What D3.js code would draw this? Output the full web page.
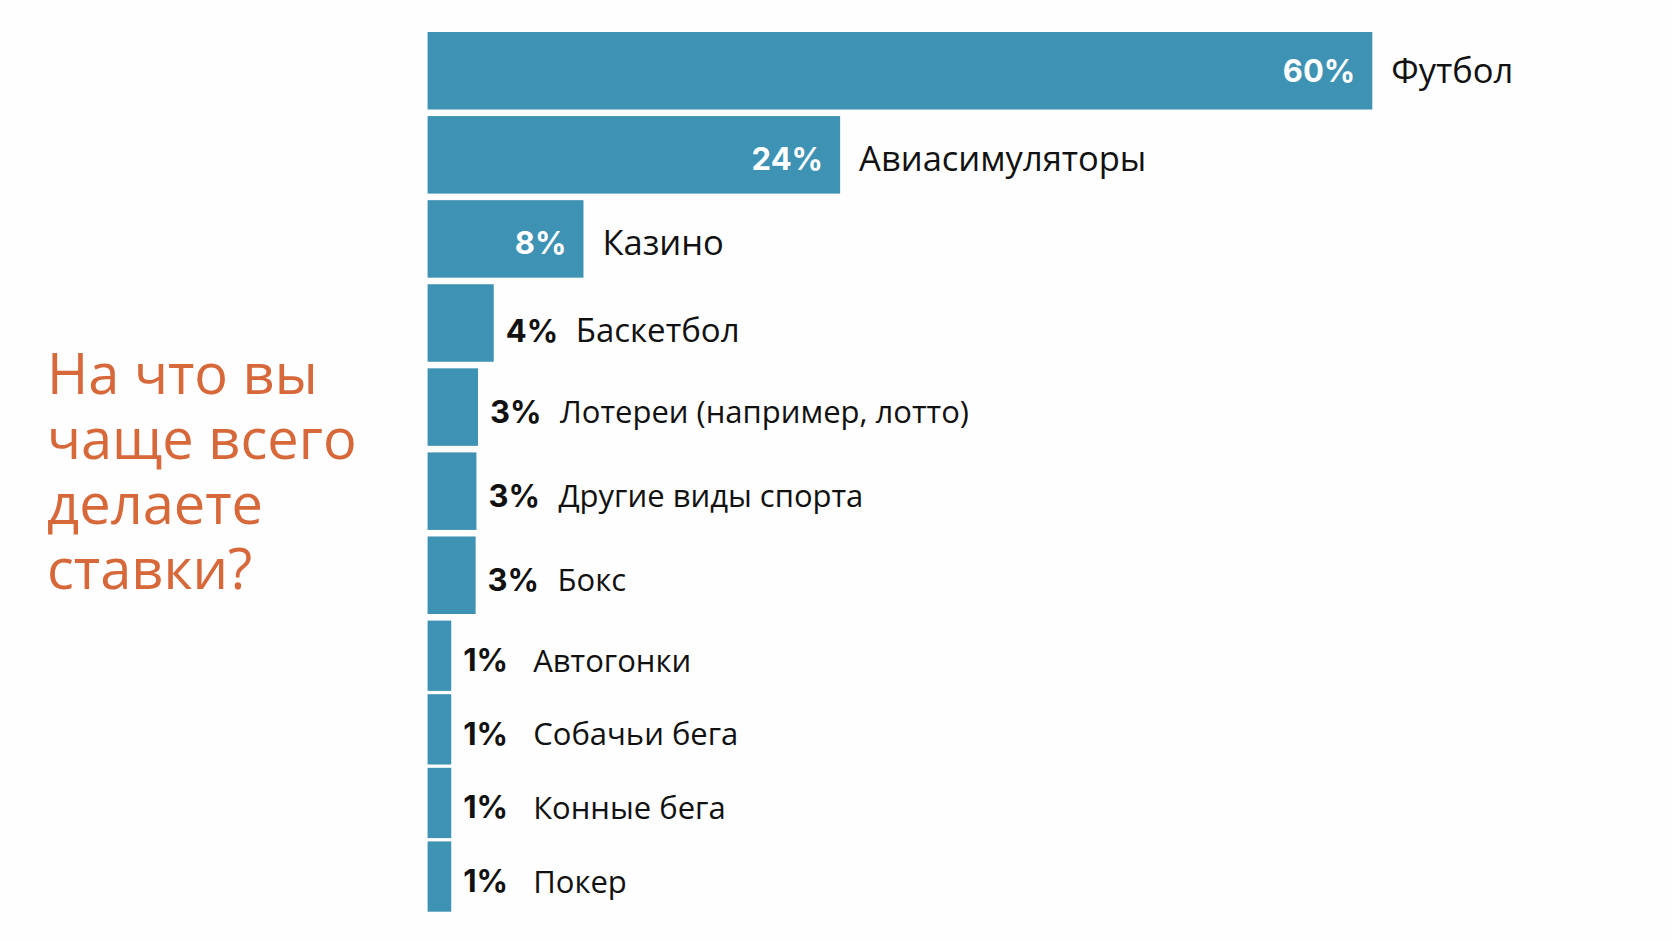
<!DOCTYPE html>
<html>
<head>
<meta charset="utf-8">
<script src="https://cdn.jsdelivr.net/npm/d3@7"></script>
<style>
  html, body { margin: 0; padding: 0; background: #fefefe; }
  svg { display: block; }
</style>
</head>
<body>
<div id="js_chart"></div>
<script>
const categories = [
  "Футбол", "Авиасимуляторы", "Казино", "Баскетбол",
  "Лотереи (например, лотто)", "Другие виды спорта", "Бокс",
  "Автогонки", "Собачьи бега", "Конные бега", "Покер"
];
// percentages as printed on the chart
const shares = [60, 24, 8, 4, 3, 3, 3, 1, 1, 1, 1];
// bar lengths as drawn in the picture (in % units, the original isn't strictly to scale)
const barLengths = [60, 26.2, 9.9, 4.2, 3.2, 3.1, 3.05, 1.5, 1.5, 1.5, 1.5];
const titleLines = ["На что вы", "чаще всего", "делаете", "ставки?"];

const width = 1672;
const height = 941;
const barColor = "#3e92b3";

const svg = d3.select("#js_chart")
  .append("svg")
  .attr("width", width)
  .attr("height", height)
  .attr("viewBox", [0, 0, width, height]);

const x = d3.scaleLinear()
  .domain([0, 60])
  .range([427.6, 1372.3]);

// top rows are a bit taller than the four 1% rows at the bottom
const yTop = d3.scaleBand()
  .domain(d3.range(0, 7))
  .range([32, 614])
  .paddingInner(0.078);
const yBottom = d3.scaleBand()
  .domain(d3.range(7, 11))
  .range([620.6, 911.7])
  .paddingInner(0.045);
const yScale = i => (i < 7 ? yTop : yBottom);
const rowTop = i => yScale(i)(i);
const rowMid = i => rowTop(i) + yScale(i).bandwidth() / 2;

const rows = categories.map((name, i) => ({
  name, i, share: shares[i], len: barLengths[i]
}));
const inside = d => x(d.len) - x(0) > 100;
// text sits a little below the bar middle except on the first row
const textShift = d => (d.i === 0 ? 0 : d.i === 3 ? 7 : 4);
const catSize = d => (inside(d) ? 34.5 : d.i === 3 ? 33 : 31);

const g = svg.append("g");

g.selectAll("rect")
  .data(rows)
  .join("rect")
    .attr("x", x(0))
    .attr("y", d => rowTop(d.i))
    .attr("width", d => x(d.len) - x(0))
    .attr("height", d => yScale(d.i).bandwidth())
    .attr("fill", barColor);

// percent labels
g.selectAll(".pct")
  .data(rows)
  .join("text")
    .attr("class", "pct")
    .attr("x", d => inside(d) ? x(d.len) - 17 : x(d.len) + 12)
    .attr("y", d => rowMid(d.i) + 11.5 + textShift(d))
    .attr("text-anchor", d => inside(d) ? "end" : "start")
    .attr("fill", d => inside(d) ? "#ffffff" : "#111111")
    .style("font-family", "Inter, 'DejaVu Sans', sans-serif")
    .style("font-weight", 700)
    .style("font-size", "31px")
    .text(d => `${d.share}%`);

// category labels
g.selectAll(".cat")
  .data(rows)
  .join("text")
    .attr("class", "cat")
    .attr("x", d => inside(d) ? x(d.len) + 19 : x(d.len) + 82)
    .attr("y", d => rowMid(d.i) + 12 + textShift(d))
    .attr("fill", "#111111")
    .style("font-family", "'Open Sans', sans-serif")
    .style("font-size", d => `${catSize(d)}px`)
    .text(d => d.name);

// title on the left
svg.append("text")
    .attr("fill", "#d7683a")
    .style("font-family", "'Open Sans', sans-serif")
    .style("font-size", "56px")
  .selectAll("tspan")
  .data(titleLines)
  .join("tspan")
    .attr("x", 47)
    .attr("y", (d, i) => 393.5 + i * 65)
    .text(d => d);
</script>
</body>
</html>
